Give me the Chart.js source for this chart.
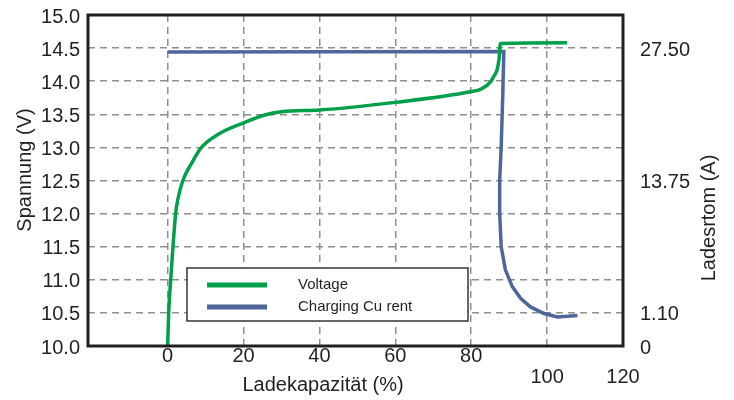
<!DOCTYPE html>
<html>
<head>
<meta charset="utf-8">
<script src="https://cdn.jsdelivr.net/npm/chart.js@4"></script>
<style>
  html, body { margin: 0; padding: 0; background: #fff; }
</style>
</head>
<body>
<canvas id="chart" width="734" height="400"></canvas>
<script>
// Ladekapazität (%) -> Spannung (V)
const voltageX = [0, 0.26, 0.8, 1.4, 2.1, 2.7, 4.0, 6.3, 8.9, 13.7, 20, 25.6, 30, 40, 60, 79.8, 82.6, 85.1, 85.9, 86.8, 87.3, 87.7, 105.3];
const voltageY = [10.0, 10.5, 11.0, 11.5, 12.0, 12.22, 12.5, 12.76, 13.0, 13.21, 13.37, 13.49, 13.54, 13.565, 13.68, 13.84, 13.88, 13.99, 14.07, 14.17, 14.32, 14.57, 14.58];

// Ladestrom, read as height on the right axis (same span as the left one)
const currentX = [0, 88.6, 88.3, 87.9, 87.5, 87.5, 87.9, 89.0, 90.8, 93.0, 95.6, 99.2, 102.7, 108];
const currentLevel = [14.44, 14.45, 13.77, 13.01, 12.51, 12.0, 11.5, 11.15, 10.9, 10.72, 10.59, 10.49, 10.44, 10.46];

// tick labels
const xTicks = [0, 20, 40, 60, 80, 100, 120];
const xTicksLowered = [100, 120];
const currentTickPos = [10, 10.5, 12.5, 14.5];
const currentTickLabels = ['0', '1.10', '13.75', '27.50'];

const seriesNames = ['Voltage', 'Charging Cu rent'];
const seriesColors = ['#00a04b', '#4e6699'];

const FONT = "'Liberation Sans', Arial, sans-serif";
const TEXT = '#231f20';
const GRID = '#8f8f8f';

const toPoints = (xs, ys) => xs.map((x, i) => ({ x: x, y: ys[i] }));

// fixed axis sizes so the plot box lands where it is in the original
const fixSize = (w, h) => s => {
    if (w !== null) s.width = w;
    if (h !== null) s.height = h;
    s.paddingTop = 0;
    s.paddingBottom = 0;
};

// frame, legend box and axis titles
const decorPlugin = {
    id: 'decor',
    afterDatasetsDraw(chart) {
        const { ctx, chartArea: a } = chart;
        ctx.save();

        ctx.strokeStyle = TEXT;
        ctx.lineWidth = 3;
        ctx.strokeRect(a.left, a.top, a.right - a.left, a.bottom - a.top);

        // legend
        ctx.fillStyle = '#fff';
        ctx.fillRect(187, 268, 281, 53);
        ctx.strokeStyle = '#3a3536';
        ctx.lineWidth = 1.5;
        ctx.strokeRect(187, 268, 281, 53);
        ctx.font = '15px ' + FONT;
        ctx.textBaseline = 'middle';
        ctx.textAlign = 'left';
        chart.data.datasets.forEach((ds, i) => {
            const y = 285 + i * 22;
            ctx.strokeStyle = ds.borderColor;
            ctx.lineWidth = 5;
            ctx.beginPath();
            ctx.moveTo(207, y);
            ctx.lineTo(267, y);
            ctx.stroke();
            ctx.fillStyle = TEXT;
            ctx.fillText(ds.label, 298, y);
        });

        // axis titles
        ctx.fillStyle = TEXT;
        ctx.font = '20px ' + FONT;
        ctx.textAlign = 'center';
        ctx.fillText('Ladekapazität (%)', 323, 385);

        ctx.save();
        ctx.translate(25, 170);
        ctx.rotate(-Math.PI / 2);
        ctx.fillText('Spannung (V)', 0, 0);
        ctx.restore();

        ctx.save();
        ctx.translate(709, 218);
        ctx.rotate(-Math.PI / 2);
        ctx.fillText('Ladesrtom (A)', 0, 0);
        ctx.restore();

        ctx.restore();
    }
};

const ctx = document.getElementById('chart').getContext('2d');
new Chart(ctx, {
    type: 'line',
    data: {
        datasets: [
            {
                label: seriesNames[0],
                data: toPoints(voltageX, voltageY),
                borderColor: seriesColors[0],
                borderWidth: 3.5,
                pointRadius: 0,
                cubicInterpolationMode: 'monotone',
                yAxisID: 'y'
            },
            {
                label: seriesNames[1],
                data: toPoints(currentX, currentLevel),
                borderColor: seriesColors[1],
                borderWidth: 3.5,
                pointRadius: 0,
                tension: 0,
                yAxisID: 'y2'
            }
        ]
    },
    options: {
        responsive: false,
        animation: false,
        devicePixelRatio: 1,
        layout: { padding: { top: 15, left: 0, right: 0, bottom: 0 } },
        plugins: {
            legend: { display: false },
            tooltip: { enabled: false }
        },
        scales: {
            x: {
                type: 'linear',
                min: -21,
                max: 120,
                afterBuildTicks: s => { s.ticks = xTicks.map(v => ({ value: v })); },
                afterFit: s => { s.height = 54; s.paddingLeft = 0; s.paddingRight = 0; },
                grid: { color: GRID, lineWidth: 1.5, drawTicks: false },
                border: { display: false, dash: [7, 5] },
                ticks: {
                    padding: 0,
                    color: TEXT,
                    maxRotation: 0,
                    autoSkip: false,
                    font: { family: FONT, size: 20, lineHeight: 1.05 },
                    callback: v => xTicksLowered.includes(v) ? ['', String(v)] : String(v)
                }
            },
            y: {
                position: 'left',
                min: 10,
                max: 15,
                afterFit: fixSize(88, null),
                grid: { color: GRID, lineWidth: 1.5, drawTicks: false },
                border: { display: false, dash: [7, 5] },
                ticks: {
                    stepSize: 0.5,
                    padding: 8,
                    labelOffset: 2,
                    color: TEXT,
                    font: { family: FONT, size: 20 },
                    callback: v => v.toFixed(1)
                }
            },
            y2: {
                position: 'right',
                min: 10,
                max: 15,
                afterBuildTicks: s => { s.ticks = currentTickPos.map(v => ({ value: v })); },
                afterFit: fixSize(111, null),
                grid: { display: false, drawTicks: false },
                border: { display: false },
                ticks: {
                    padding: 17,
                    labelOffset: 2,
                    color: TEXT,
                    font: { family: FONT, size: 20 },
                    callback: v => currentTickLabels[currentTickPos.indexOf(v)]
                }
            }
        }
    },
    plugins: [decorPlugin]
});
</script>
</body>
</html>
